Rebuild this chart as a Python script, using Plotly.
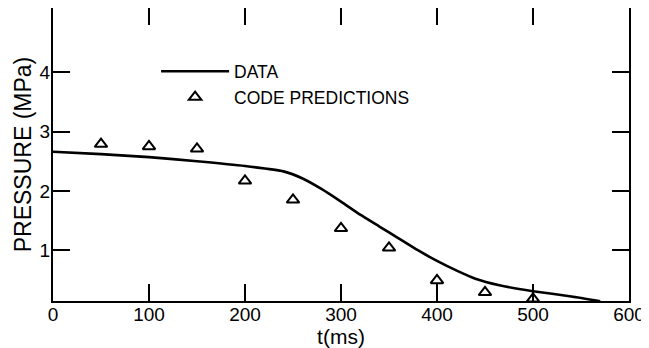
import plotly.graph_objects as go

# Measured curve ("DATA")
data_t = [0, 50, 100, 150, 200, 240, 260, 280, 300, 320, 340, 360, 380, 400, 420, 440, 465, 500, 540, 570]
data_p = [2.66, 2.62, 2.57, 2.50, 2.42, 2.33, 2.21, 2.03, 1.82, 1.60, 1.40, 1.20, 1.00, 0.82, 0.66, 0.52, 0.41, 0.31, 0.22, 0.14]

# Code predictions (triangles)
pred_t = [50, 100, 150, 200, 250, 300, 350, 400, 450, 500]
pred_p = [2.79, 2.75, 2.71, 2.17, 1.85, 1.37, 1.04, 0.49, 0.29, 0.18]

x_ticks = [0, 100, 200, 300, 400, 500, 600]
y_ticks = [1, 2, 3, 4]

FONT = "Liberation Sans, Arial, sans-serif"

fig = go.Figure()
fig.add_trace(go.Scatter(
    x=data_t, y=data_p, mode="lines", name="DATA",
    line=dict(color="black", width=2.6, shape="spline", smoothing=0.5),
    cliponaxis=False,
))
fig.add_trace(go.Scatter(
    x=pred_t, y=pred_p, mode="markers", name="CODE PREDICTIONS",
    marker=dict(symbol="triangle-up-open", size=11, color="black",
                line=dict(color="black", width=2)),
    cliponaxis=False,
))

axis_common = dict(
    showline=True, linecolor="black", linewidth=2, mirror="ticks",
    ticks="inside", ticklen=17, tickwidth=1.5, tickcolor="black",
    showgrid=False, zeroline=False,
    tickfont=dict(family=FONT, size=19, color="black"),
)

# The page body has an 8px default margin; the figure is sized to fit inside it.
fig.update_layout(
    width=641, height=340,
    margin=dict(l=45, r=20, t=0, b=47, autoexpand=False),
    paper_bgcolor="white", plot_bgcolor="white",
    showlegend=True,
    legend=dict(
        x=0.179, y=0.845, xanchor="left", yanchor="top",
        bgcolor="rgba(0,0,0,0)", borderwidth=0,
        font=dict(family=FONT, size=17.5, color="black"),
        itemwidth=68, tracegroupgap=0,
    ),
    xaxis=dict(
        range=[0, 600], tickvals=x_ticks, ticktext=[str(v) for v in x_ticks],
        ticklabelstandoff=-5,
        title=dict(text="t(ms)", font=dict(family=FONT, size=21, color="black"), standoff=6),
        **axis_common,
    ),
    yaxis=dict(
        range=[0.144, 5.085], tickvals=y_ticks, ticktext=[str(v) for v in y_ticks],
        ticklabelstandoff=-3,
        title=dict(text="PRESSURE (MPa)", font=dict(family=FONT, size=23, color="black"), standoff=2),
        **axis_common,
    ),
)

fig.write_html("out.html")
